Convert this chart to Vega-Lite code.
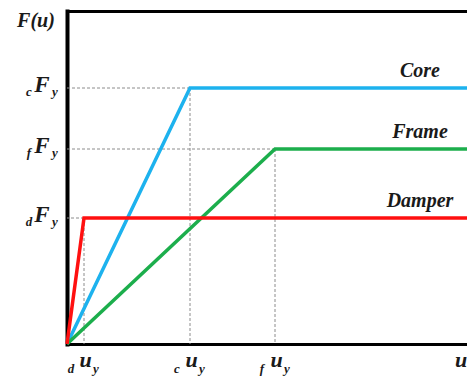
{
  "$schema": "https://vega.github.io/schema/vega-lite/v6.json",
  "width": 400,
  "height": 333,
  "autosize": "none",
  "padding": {"left": 67, "top": 11, "right": 0, "bottom": 33},
  "background": "white",
  "config": {
    "view": {"stroke": null},
    "text": {"font": "'Times New Roman', 'Liberation Serif', 'DejaVu Serif', serif", "fontStyle": "italic", "fontWeight": "bold", "fill": "#1a1a1a", "baseline": "alphabetic", "align": "center"}
  },
  "resolve": {"axis": {"x": "independent", "y": "independent"}},
  "datasets": {
    "curves": [
      {"series": "Core", "u": 0, "F": 0},
      {"series": "Core", "u": 123, "F": 256},
      {"series": "Core", "u": 400, "F": 256},
      {"series": "Frame", "u": 0, "F": 0},
      {"series": "Frame", "u": 208, "F": 195},
      {"series": "Frame", "u": 400, "F": 195},
      {"series": "Damper", "u": 0, "F": 0},
      {"series": "Damper", "u": 17, "F": 126},
      {"series": "Damper", "u": 400, "F": 126}
    ],
    "yield": [
      {"key": "c", "series": "Core", "uy": 123, "Fy": 256},
      {"key": "f", "series": "Frame", "uy": 208, "Fy": 195},
      {"key": "d", "series": "Damper", "uy": 17, "Fy": 126}
    ],
    "one": [{}]
  },
  "layer": [
    {
      "data": {"name": "yield"},
      "mark": {"type": "rule", "color": "#8c8c8c", "strokeWidth": 1, "strokeDash": [3, 2]},
      "encoding": {
        "x": {"field": "uy", "type": "quantitative", "scale": {"domain": [0, 400], "nice": false},
          "axis": {"orient": "top", "domain": true, "domainColor": "black", "domainWidth": 3, "domainCap": "square", "ticks": false, "labels": false, "grid": false, "title": null}},
        "x2": {"datum": 0},
        "y": {"field": "Fy", "type": "quantitative", "scale": {"domain": [0, 333], "nice": false}, "axis": null}
      }
    },
    {
      "data": {"name": "yield"},
      "mark": {"type": "rule", "color": "#8c8c8c", "strokeWidth": 1, "strokeDash": [3, 2]},
      "encoding": {
        "x": {"field": "uy", "type": "quantitative", "scale": {"domain": [0, 400], "nice": false}, "axis": null},
        "y": {"field": "Fy", "type": "quantitative", "scale": {"domain": [0, 333], "nice": false}, "axis": null},
        "y2": {"datum": 0}
      }
    },
    {
      "data": {"name": "curves"},
      "mark": {"type": "line", "strokeWidth": 3.5, "strokeJoin": "miter"},
      "encoding": {
        "x": {"field": "u", "type": "quantitative", "scale": {"domain": [0, 400], "nice": false},
          "axis": {"orient": "bottom", "domain": true, "domainColor": "black", "domainWidth": 3, "domainCap": "square", "ticks": false, "labels": false, "grid": false, "title": null}},
        "y": {"field": "F", "type": "quantitative", "scale": {"domain": [0, 333], "nice": false},
          "axis": {"orient": "left", "domain": true, "domainColor": "black", "domainWidth": 4, "domainCap": "square", "ticks": false, "labels": false, "grid": false, "title": null}},
        "color": {"field": "series", "type": "nominal", "scale": {"domain": ["Core", "Frame", "Damper"], "range": ["#1db2ee", "#1cae4c", "#ff1010"]}, "legend": null}
      }
    },
    {
      "data": {"name": "one"},
      "mark": {"type": "text", "fontSize": 20, "dx": -31, "dy": 16},
      "encoding": {
        "x": {"datum": 0, "type": "quantitative", "scale": {"domain": [0, 400], "nice": false}, "axis": null},
        "y": {"datum": 333, "type": "quantitative", "scale": {"domain": [0, 333], "nice": false}, "axis": null},
        "text": {"value": "F(u)"}
      }
    },
    {
      "data": {"name": "yield"},
      "mark": {"type": "text", "fontSize": 20, "dy": -11},
      "encoding": {
        "x": {"datum": 353, "type": "quantitative", "scale": {"domain": [0, 400], "nice": false}, "axis": null},
        "y": {"field": "Fy", "type": "quantitative", "scale": {"domain": [0, 333], "nice": false}, "axis": null},
        "text": {"field": "series"}
      }
    },
    {
      "data": {"name": "yield"},
      "mark": {"type": "text", "fontSize": 13, "dx": -38, "dy": 8},
      "encoding": {
        "x": {"datum": 0, "type": "quantitative", "scale": {"domain": [0, 400], "nice": false}, "axis": null},
        "y": {"field": "Fy", "type": "quantitative", "scale": {"domain": [0, 333], "nice": false}, "axis": null},
        "text": {"field": "key"}
      }
    },
    {
      "data": {"name": "yield"},
      "mark": {"type": "text", "fontSize": 23, "dx": -25, "dy": 4},
      "encoding": {
        "x": {"datum": 0, "type": "quantitative", "scale": {"domain": [0, 400], "nice": false}, "axis": null},
        "y": {"field": "Fy", "type": "quantitative", "scale": {"domain": [0, 333], "nice": false}, "axis": null},
        "text": {"value": "F"}
      }
    },
    {
      "data": {"name": "yield"},
      "mark": {"type": "text", "fontSize": 13, "dx": -12, "dy": 8},
      "encoding": {
        "x": {"datum": 0, "type": "quantitative", "scale": {"domain": [0, 400], "nice": false}, "axis": null},
        "y": {"field": "Fy", "type": "quantitative", "scale": {"domain": [0, 333], "nice": false}, "axis": null},
        "text": {"value": "y"}
      }
    },
    {
      "data": {"name": "yield"},
      "mark": {"type": "text", "fontSize": 13, "dx": -13, "dy": 29},
      "encoding": {
        "x": {"field": "uy", "type": "quantitative", "scale": {"domain": [0, 400], "nice": false}, "axis": null},
        "y": {"datum": 0, "type": "quantitative", "scale": {"domain": [0, 333], "nice": false}, "axis": null},
        "text": {"field": "key"}
      }
    },
    {
      "data": {"name": "yield"},
      "mark": {"type": "text", "fontSize": 22, "dx": 1.5, "dy": 23},
      "encoding": {
        "x": {"field": "uy", "type": "quantitative", "scale": {"domain": [0, 400], "nice": false}, "axis": null},
        "y": {"datum": 0, "type": "quantitative", "scale": {"domain": [0, 333], "nice": false}, "axis": null},
        "text": {"value": "u"}
      }
    },
    {
      "data": {"name": "yield"},
      "mark": {"type": "text", "fontSize": 13, "dx": 12, "dy": 29},
      "encoding": {
        "x": {"field": "uy", "type": "quantitative", "scale": {"domain": [0, 400], "nice": false}, "axis": null},
        "y": {"datum": 0, "type": "quantitative", "scale": {"domain": [0, 333], "nice": false}, "axis": null},
        "text": {"value": "y"}
      }
    },
    {
      "data": {"name": "one"},
      "mark": {"type": "text", "fontSize": 22, "align": "left", "dx": -12, "dy": 23},
      "encoding": {
        "x": {"datum": 400, "type": "quantitative", "scale": {"domain": [0, 400], "nice": false}, "axis": null},
        "y": {"datum": 0, "type": "quantitative", "scale": {"domain": [0, 333], "nice": false}, "axis": null},
        "text": {"value": "u"}
      }
    }
  ]
}
